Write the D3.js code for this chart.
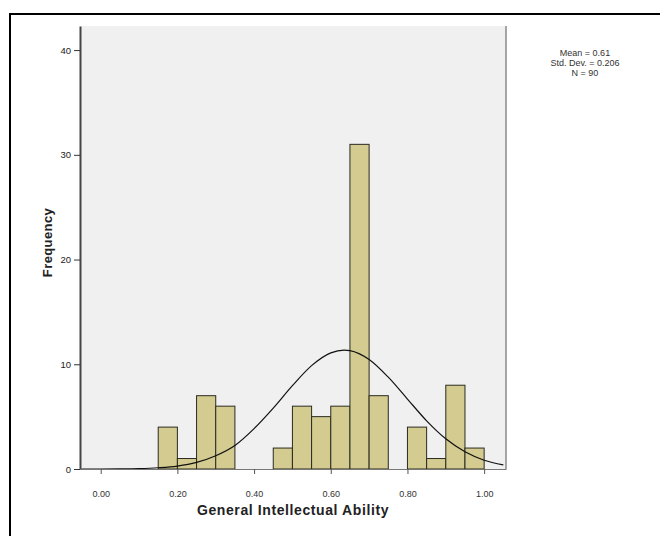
<!DOCTYPE html>
<html>
<head>
<meta charset="utf-8">
<script src="https://cdn.jsdelivr.net/npm/d3@7"></script>
<style>
  html, body { margin: 0; padding: 0; background: #fff; }
  svg { display: block; font-family: "Liberation Sans", Arial, sans-serif; }
</style>
</head>
<body>
<svg id="chart" width="660" height="536"></svg>
<script>
// ---- data ----
const binStarts = [0.15, 0.20, 0.25, 0.30, 0.45, 0.50, 0.55, 0.60, 0.65, 0.70, 0.80, 0.85, 0.90, 0.95];
const binWidth = 0.05;
const frequencies = [4, 1, 7, 6, 2, 6, 5, 6, 31, 7, 4, 1, 8, 2];
const xTicks = [0.00, 0.20, 0.40, 0.60, 0.80, 1.00];
const yTicks = [0, 10, 20, 30, 40];
const curveX = [-0.05, 0.00, 0.05, 0.10, 0.15, 0.20, 0.25, 0.30, 0.35, 0.40, 0.45, 0.50, 0.55, 0.60, 0.635, 0.65, 0.70, 0.75, 0.80, 0.85, 0.90, 0.95, 1.00, 1.05];
const curveY = [0.00, 0.00, 0.01, 0.04, 0.12, 0.28, 0.63, 1.27, 2.25, 3.86, 5.82, 7.96, 9.87, 11.09, 11.36, 11.31, 10.46, 8.77, 6.68, 4.60, 2.88, 1.64, 0.84, 0.39];
const legendLines = ["Mean = 0.61", "Std. Dev. = 0.206", "N = 90"];
const xTitle = "General Intellectual Ability";
const yTitle = "Frequency";

// ---- layout ----
const svg = d3.select("#chart");
const plot = { left: 80, right: 506, top: 26, bottom: 469 };
const x = d3.scaleLinear().domain([-0.054, 1.057]).range([plot.left, plot.right]);
const y = d3.scaleLinear().domain([0, 42.3]).range([plot.bottom, plot.top]);

// outer frame (only top/left visible)
svg.append("rect").attr("x", 10).attr("y", 14).attr("width", 700).attr("height", 600)
  .attr("fill", "none").attr("stroke", "#000").attr("stroke-width", 2);

// plot background
svg.append("rect").attr("x", plot.left).attr("y", plot.top)
  .attr("width", plot.right - plot.left).attr("height", plot.bottom - plot.top)
  .attr("fill", "#f0f0f0");

// bars
const bars = binStarts.map((s, i) => ({ x0: s, x1: s + binWidth, f: frequencies[i] }));
svg.append("g").selectAll("rect").data(bars).join("rect")
  .attr("x", d => x(d.x0))
  .attr("y", d => y(d.f))
  .attr("width", d => x(d.x1) - x(d.x0))
  .attr("height", d => y(0) - y(d.f))
  .attr("fill", "#d3cb90")
  .attr("stroke", "#2a2a20")
  .attr("stroke-width", 1);

// right border
svg.append("line").attr("x1", plot.right).attr("x2", plot.right)
  .attr("y1", plot.top).attr("y2", plot.bottom)
  .attr("stroke", "#8a8a8a").attr("stroke-width", 1.5);

// normal curve
const line = d3.line().x((d, i) => x(curveX[i])).y(d => y(d)).curve(d3.curveMonotoneX);
svg.append("path").attr("d", line(curveY))
  .attr("fill", "none").attr("stroke", "#111").attr("stroke-width", 1.2);

// x axis
const xAxis = d3.axisBottom(x).tickValues(xTicks).tickFormat(d3.format(".2f")).tickSize(5).tickSizeOuter(0);
const gx = svg.append("g").attr("transform", `translate(0,${plot.bottom})`).call(xAxis);
gx.select(".domain").attr("stroke", "#777").attr("stroke-width", 1.2);
gx.selectAll(".tick line").attr("stroke", "#555");
gx.selectAll(".tick text").attr("font-size", 9).attr("fill", "#333").attr("dy", "2.2em");

// y axis
const yAxis = d3.axisLeft(y).tickValues(yTicks).tickSize(6).tickSizeOuter(0).tickPadding(3);
const gy = svg.append("g").attr("transform", `translate(${plot.left},0)`).call(yAxis);
gy.select(".domain").attr("stroke", "#444").attr("stroke-width", 2);
gy.selectAll(".tick line").attr("stroke", "#333");
gy.selectAll(".tick text").attr("font-size", 9.5).attr("fill", "#222");

// titles
svg.append("text").attr("x", (plot.left + plot.right) / 2).attr("y", 515)
  .attr("text-anchor", "middle").attr("font-size", 14).attr("font-weight", "bold")
  .attr("letter-spacing", 0.6).attr("fill", "#222").text(xTitle);
svg.append("text").attr("transform", `translate(52,${(plot.top + plot.bottom) / 2 - 5}) rotate(-90)`)
  .attr("text-anchor", "middle").attr("font-size", 13).attr("font-weight", "bold")
  .attr("letter-spacing", 0.4).attr("fill", "#222").text(yTitle);

// legend
svg.append("g").selectAll("text").data(legendLines).join("text")
  .attr("x", 585).attr("y", (d, i) => 56 + i * 10)
  .attr("text-anchor", "middle").attr("font-size", 9).attr("fill", "#333")
  .text(d => d);
</script>
</body>
</html>
